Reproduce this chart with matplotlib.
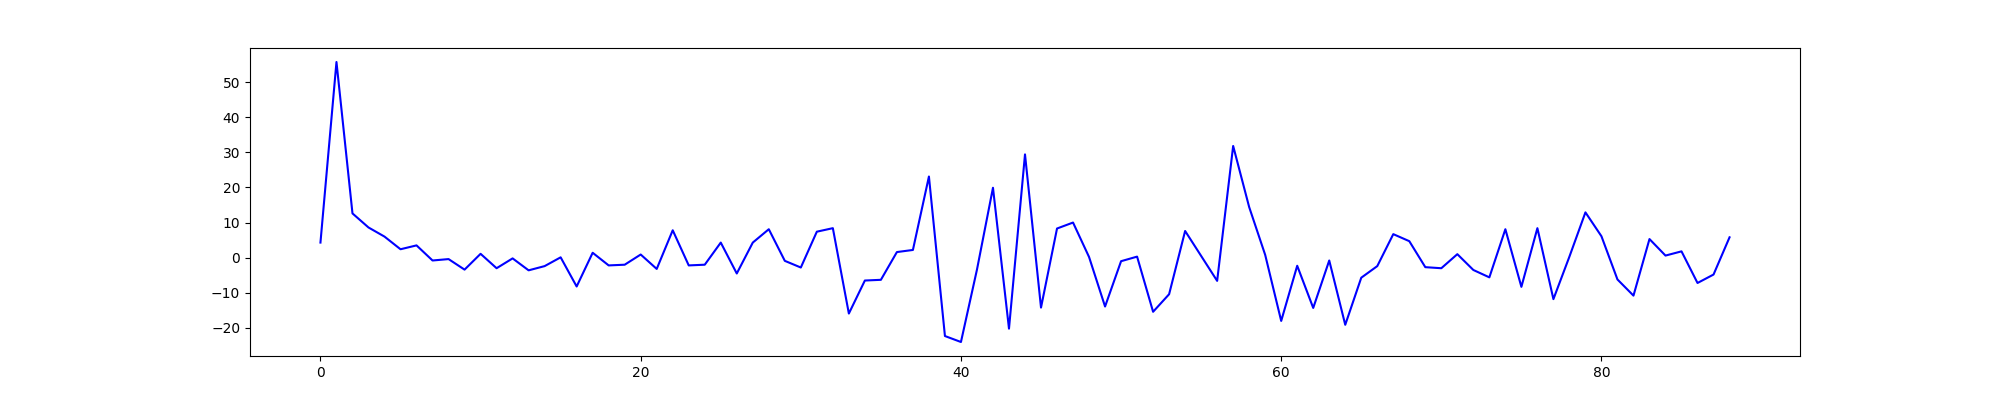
import numpy as np
import matplotlib
matplotlib.use("Agg")
import matplotlib.pyplot as plt

# values, one per integer step 0..88
values = [
    4.3, 55.7, 12.6, 8.6, 6.0, 2.4, 3.5, -0.8, -0.4, -3.4,
    1.1, -3.0, -0.2, -3.6, -2.4, 0.1, -8.2, 1.4, -2.2, -2.0,
    0.9, -3.2, 7.8, -2.2, -2.0, 4.3, -4.5, 4.3, 8.1, -0.9,
    -2.8, 7.4, 8.4, -15.9, -6.5, -6.3, 1.6, 2.2, 23.1, -22.3,
    -24.0, -3.4, 19.9, -20.2, 29.4, -14.2, 8.3, 10.0, 0.2, -13.9,
    -1.0, 0.3, -15.4, -10.4, 7.6, 0.5, -6.6, 31.8, 14.4, 0.8,
    -18.0, -2.3, -14.3, -0.8, -19.1, -5.7, -2.4, 6.7, 4.7, -2.7,
    -3.0, 1.0, -3.5, -5.6, 8.1, -8.3, 8.4, -11.8, 0.3, 12.9,
    6.1, -6.2, -10.8, 5.3, 0.6, 1.8, -7.2, -4.8, 5.8,
]
steps = np.arange(len(values))

fig = plt.figure(figsize=(20, 4), dpi=100)
plt.plot(steps, values, color="b")
plt.savefig("out.png")
